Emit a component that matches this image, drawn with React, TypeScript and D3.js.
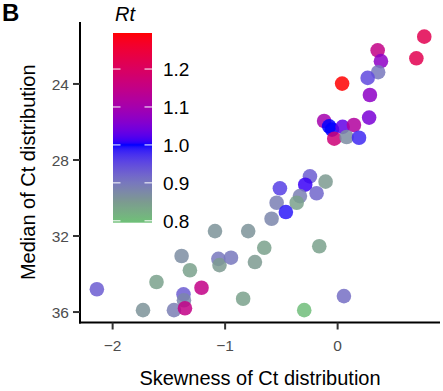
import { useEffect, useRef } from "react";
import * as d3 from "d3";

// values
const skewness = [
  0.77, 0.7, 0.356, 0.385, 0.36, 0.267, 0.04, 0.287, 0.28, -0.12, -0.075, -0.05,
  0.044, 0.145, -0.03, 0.08, 0.19, -0.246, -0.288, -0.107, -0.187, -0.513, -0.335,
  -0.364, -0.542, -0.46, -0.587, -1.09, -0.795, -0.652, -0.163, -1.06, -1.05, -0.948,
  -0.735, -0.84, -0.297, 0.056, -1.21, -2.14, -1.61, -1.73, -1.387, -1.313, -1.37,
  -1.366, -1.455, -1.357,
];
const medianCt = [
  21.51, 22.65, 22.23, 22.8, 23.38, 23.68, 23.98, 24.58, 25.77, 25.95, 26.23, 26.4,
  26.26, 26.16, 26.88, 26.79, 26.83, 28.86, 29.3, 29.14, 29.75, 29.49, 29.9, 30.25,
  30.25, 30.74, 31.09, 31.74, 31.74, 32.62, 32.54, 33.2, 33.53, 33.14, 33.37, 35.3,
  35.9, 35.16, 34.72, 34.8, 34.42, 35.9, 33.05, 33.8, 35.07, 35.38, 35.9, 35.8,
];
const rt = [
  1.22, 1.22, 1.15, 1.07, 0.9, 0.95, 1.3, 1.07, 1.05, 1.1, 1.0, 1.0, 1.03, 1.12,
  1.17, 0.87, 0.98, 0.93, 1.01, 0.85, 0.92, 0.96, 0.89, 0.84, 0.89, 0.99, 0.88,
  0.86, 0.86, 0.84, 0.84, 0.9, 0.85, 0.9, 0.85, 0.84, 0.8, 0.91, 1.15, 0.93, 0.84,
  0.86, 0.87, 0.84, 0.93, 0.88, 0.89, 1.15,
];

const xTicks = [-2, -1, 0];
const yTicks = [24, 28, 32, 36];
const rtTicks = [0.8, 0.9, 1.0, 1.1, 1.2];
const rtStops = [0.795, 0.85, 0.9, 1.0, 1.295];
const rtColours = ["#6ec177", "#7c9a90", "#7878bd", "#0000ff", "#ff0000"];

export default function App() {
  const ref = useRef<SVGSVGElement>(null);

  useEffect(() => {
    document.body.style.margin = "0";
    const svg = d3.select(ref.current);
    svg.selectAll("*").remove();

    const font = "'Liberation Sans', Arial, sans-serif";
    const left = 80, right = 440, top = 22, bottom = 322.5;

    const x = d3.scaleLinear().domain([-2.29, 0.91]).range([left, right]);
    const y = d3.scaleLinear().domain([20.74, 36.55]).range([top, bottom]);
    const colour = d3
      .scaleLinear<string>()
      .domain(rtStops)
      .range(rtColours)
      .interpolate(d3.interpolateLab)
      .clamp(true);

    // points
    const g = svg.append("g");
    skewness.forEach((s, i) => {
      g.append("circle")
        .attr("cx", x(s))
        .attr("cy", y(medianCt[i]))
        .attr("r", 7.3)
        .attr("fill", colour(rt[i]))
        .attr("fill-opacity", 0.85);
    });

    // axis lines
    svg.append("line").attr("x1", left).attr("x2", left).attr("y1", top).attr("y2", bottom + 1)
      .attr("stroke", "black").attr("stroke-width", 2);
    svg.append("line").attr("x1", left - 1).attr("x2", right).attr("y1", bottom).attr("y2", bottom)
      .attr("stroke", "black").attr("stroke-width", 2);

    yTicks.forEach((t) => {
      svg.append("line").attr("x1", left - 7).attr("x2", left).attr("y1", y(t)).attr("y2", y(t))
        .attr("stroke", "#333").attr("stroke-width", 2);
      svg.append("text").attr("x", left - 11).attr("y", y(t)).attr("dy", "0.36em")
        .attr("text-anchor", "end").attr("font-family", font).attr("font-size", 15.5)
        .attr("fill", "#4d4d4d").text(t);
    });
    xTicks.forEach((t) => {
      svg.append("line").attr("x1", x(t)).attr("x2", x(t)).attr("y1", bottom).attr("y2", bottom + 7)
        .attr("stroke", "#333").attr("stroke-width", 2);
      svg.append("text").attr("x", x(t)).attr("y", bottom + 28)
        .attr("text-anchor", "middle").attr("font-family", font).attr("font-size", 15.5)
        .attr("fill", "#4d4d4d").text(t < 0 ? "\u2212" + Math.abs(t) : String(t));
    });

    svg.append("text").attr("x", (left + right) / 2).attr("y", 385)
      .attr("text-anchor", "middle").attr("font-family", font).attr("font-size", 20)
      .text("Skewness of Ct distribution");
    svg.append("text").attr("transform", `translate(35,${(top + bottom) / 2}) rotate(-90)`)
      .attr("text-anchor", "middle").attr("font-family", font).attr("font-size", 20)
      .text("Median of Ct distribution");

    svg.append("text").attr("x", 2).attr("y", 21).attr("font-family", font)
      .attr("font-size", 24).attr("font-weight", "bold").text("B");

    // colour bar legend
    const barX = 113, barW = 39;
    const ly = d3.scaleLinear().domain([0.795, 1.295]).range([222.7, 33]);
    const grad = svg.append("defs").append("linearGradient").attr("id", "rtgrad")
      .attr("x1", 0).attr("x2", 0).attr("y1", 1).attr("y2", 0);
    d3.range(0, 101).forEach((k) => {
      const f = k / 100;
      grad.append("stop").attr("offset", f).attr("stop-color", colour(0.795 + f * 0.5));
    });
    svg.append("rect").attr("x", barX).attr("y", ly(1.295)).attr("width", barW)
      .attr("height", ly(0.795) - ly(1.295)).attr("fill", "url(#rtgrad)");
    rtTicks.forEach((t) => {
      svg.append("line").attr("x1", barX).attr("x2", barX + 7.5).attr("y1", ly(t)).attr("y2", ly(t))
        .attr("stroke", "white").attr("stroke-width", 1);
      svg.append("line").attr("x1", barX + barW - 7.5).attr("x2", barX + barW).attr("y1", ly(t)).attr("y2", ly(t))
        .attr("stroke", "white").attr("stroke-width", 1);
      svg.append("text").attr("x", 163).attr("y", ly(t)).attr("dy", "0.36em")
        .attr("font-family", font).attr("font-size", 19).text(t.toFixed(1));
    });
    svg.append("text").attr("x", 115).attr("y", 21).attr("font-family", font)
      .attr("font-size", 20).attr("font-style", "italic").text("Rt");
  }, []);

  return <svg ref={ref} width={443} height={391} style={{ display: "block" }} />;
}
